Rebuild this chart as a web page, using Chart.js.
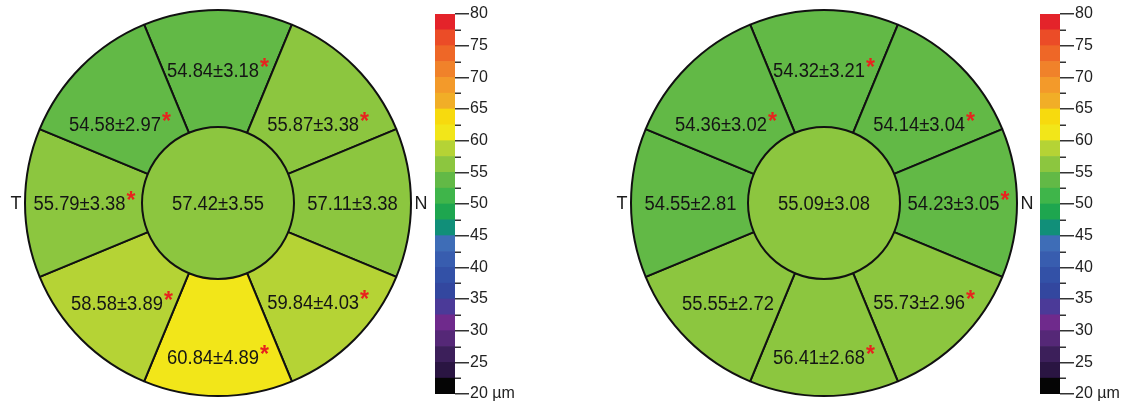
<!DOCTYPE html>
<html>
<head>
<meta charset="utf-8">
<script src="https://cdn.jsdelivr.net/npm/chart.js@4.4.1/dist/chart.umd.min.js"></script>
<style>
  html, body { margin: 0; padding: 0; background: #ffffff; }
  #wrap { position: relative; width: 1122px; height: 411px; overflow: hidden; }
  #wrap canvas { position: absolute; top: 0; }
</style>
</head>
<body>
<div id="wrap">
  <canvas id="mapL" width="435" height="411" style="left:0px"></canvas>
  <canvas id="barL" width="90" height="411" style="left:435px"></canvas>
  <canvas id="mapR" width="440" height="411" style="left:600px"></canvas>
  <canvas id="barR" width="82" height="411" style="left:1040px"></canvas>
</div>
<script>
// Outer ring sectors, starting at the top and running clockwise
const sectorNames = ['S', 'SN', 'N', 'IN', 'I', 'IT', 'T', 'ST'];

// Left map
const leftMeans = [54.84, 55.87, 57.11, 59.84, 60.84, 58.58, 55.79, 54.58];
const leftSD    = [3.18, 3.38, 3.38, 4.03, 4.89, 3.89, 3.38, 2.97];
const leftSig   = [true, true, false, true, true, true, true, true];
const leftCentreMean = 57.42;
const leftCentreSD   = 3.55;
const leftCentreSig  = false;

// Right map
const rightMeans = [54.32, 54.14, 54.23, 55.73, 56.41, 55.55, 54.55, 54.36];
const rightSD    = [3.21, 3.04, 3.05, 2.96, 2.68, 2.72, 2.81, 3.02];
const rightSig   = [true, true, true, true, true, false, false, true];
const rightCentreMean = 55.09;
const rightCentreSD   = 3.08;
const rightCentreSig  = false;

// Thickness colour scale (µm): step edges, step colours (bottom to top), ticks
const scaleEdges = [20, 22.5, 25, 27.5, 30, 32.5, 35, 37.5, 40, 42.5, 45, 47.5,
                    50, 52.5, 55, 57.5, 60, 62.5, 65, 67.5, 70, 72.5, 75, 77.5, 80];
const scaleColours = ['#050505', '#2a1542', '#3c1f5a', '#552877', '#6f2a8c', '#4b3a98',
                      '#33479f', '#3351a7', '#385daf', '#3e6db7', '#118f79', '#1ea64f',
                      '#3fb54a', '#62b946', '#8cc63f', '#b5d335', '#f2e619', '#f7da0e',
                      '#f1ae27', '#f39a2a', '#f0822a', '#ee6727', '#eb4c27', '#e4232a'];
const majorTicks = [20, 25, 30, 35, 40, 45, 50, 55, 60, 65, 70, 75, 80];
const minorTicks = [22.5, 27.5, 32.5, 37.5, 42.5, 47.5, 52.5, 57.5, 62.5, 67.5, 72.5, 77.5];
const unitLabel = 'µm';

// Small per-sector shifts of the value labels away from the sector centroid (px)
const labelNudge = [[0, 1], [5, 16], [0, 0], [5, 4], [0, 19], [-1, 5], [1, 0], [-3, 16]];

const FONT = "'Liberation Sans', Arial, Helvetica, sans-serif";
Chart.defaults.font.family = FONT;

function colourFor(v) {
  for (let i = 0; i < scaleColours.length; i++) {
    if (v >= scaleEdges[i] && v < scaleEdges[i + 1]) return scaleColours[i];
  }
  return v < scaleEdges[0] ? scaleColours[0] : scaleColours[scaleColours.length - 1];
}

function fmt(m, s) { return m.toFixed(2) + '\u00b1' + s.toFixed(2); }

// Draws "mean±sd" with a slightly condensed face, plus a red raised asterisk when flagged
function drawValue(ctx, text, sig, cx, cy) {
  const squeeze = 0.92;
  ctx.save();
  ctx.font = '20px ' + FONT;
  const tw = ctx.measureText(text).width * squeeze;
  ctx.font = 'bold 23px ' + FONT;
  const sw = sig ? ctx.measureText('*').width + 1 : 0;
  const x0 = cx - (tw + sw) / 2;
  const base = cy + 7.2;
  ctx.font = '20px ' + FONT;
  ctx.fillStyle = '#151515';
  ctx.textAlign = 'left';
  ctx.textBaseline = 'alphabetic';
  ctx.save();
  ctx.translate(x0, base);
  ctx.scale(squeeze, 1);
  ctx.fillText(text, 0, 0);
  ctx.restore();
  if (sig) {
    ctx.font = 'bold 23px ' + FONT;
    ctx.fillStyle = '#e8221e';
    ctx.fillText('*', x0 + tw + 1, base - 2);
  }
  ctx.restore();
}

const mapLabels = {
  id: 'mapLabels',
  afterDatasetsDraw(chart) {
    const cfg = chart.options.plugins.mapLabels;
    const ctx = chart.ctx;
    const ring = chart.getDatasetMeta(0).data;
    ring.forEach((arc, i) => {
      const p = arc.getCenterPoint();
      drawValue(ctx, fmt(cfg.means[i], cfg.sds[i]), cfg.sig[i],
                p.x + labelNudge[i][0], p.y + labelNudge[i][1]);
    });
    const centre = chart.getDatasetMeta(1).data[0];
    drawValue(ctx, fmt(cfg.centreMean, cfg.centreSD), cfg.centreSig, centre.x, centre.y);

    // Side markers: temporal (left) and nasal (right)
    const r = ring[0].outerRadius;
    ctx.save();
    ctx.font = '18px ' + FONT;
    ctx.fillStyle = '#1c1c1c';
    ctx.textAlign = 'center';
    ctx.textBaseline = 'middle';
    ctx.fillText('T', centre.x - r - 9, centre.y + 1);
    ctx.fillText('N', centre.x + r + 10, centre.y + 1);
    ctx.restore();
  }
};

function makeMap(id, means, sds, sig, cMean, cSD, cSig, padLeft, padRight) {
  new Chart(document.getElementById(id), {
    type: 'doughnut',
    data: {
      labels: sectorNames,
      datasets: [
        {
          data: means.map(() => 1),
          backgroundColor: means.map(colourFor),
          borderColor: '#111',
          borderWidth: 2,
          weight: 117
        },
        {
          // the ring's inner edges already outline this disc
          data: [1],
          backgroundColor: [colourFor(cMean)],
          borderWidth: 0,
          weight: 76
        }
      ]
    },
    options: {
      responsive: false,
      animation: false,
      events: [],
      cutout: 0,
      rotation: -22.5,
      hoverOffset: 0,
      layout: { padding: { left: padLeft, right: padRight, top: 9, bottom: 14 } },
      plugins: {
        legend: { display: false },
        tooltip: { enabled: false },
        mapLabels: { means, sds, sig, centreMean: cMean, centreSD: cSD, centreSig: cSig }
      }
    },
    plugins: [mapLabels]
  });
}

const minorTickMarks = {
  id: 'minorTickMarks',
  afterDraw(chart) {
    const y = chart.scales.y;
    const ctx = chart.ctx;
    ctx.save();
    ctx.strokeStyle = '#333';
    ctx.lineWidth = 1.5;
    minorTicks.forEach(v => {
      const py = Math.round(y.getPixelForValue(v)) + 0.25;
      ctx.beginPath();
      ctx.moveTo(y.left, py);
      ctx.lineTo(y.left + 6, py);
      ctx.stroke();
    });
    ctx.restore();
  }
};

function makeScale(id, canvasWidth) {
  new Chart(document.getElementById(id), {
    type: 'bar',
    data: {
      labels: [''],
      datasets: scaleColours.map((c, i) => ({
        data: [[scaleEdges[i], scaleEdges[i + 1]]],
        backgroundColor: c,
        borderWidth: 0,
        grouped: false,
        barPercentage: 1,
        categoryPercentage: 1
      }))
    },
    options: {
      responsive: false,
      animation: false,
      events: [],
      layout: { padding: { left: 0, right: 0, top: 14, bottom: 17 } },
      plugins: { legend: { display: false }, tooltip: { enabled: false } },
      scales: {
        x: { display: false },
        y: {
          position: 'right',
          min: scaleEdges[0],
          max: scaleEdges[scaleEdges.length - 1],
          afterFit(scale) { scale.width = canvasWidth - 20; },
          afterBuildTicks(scale) { scale.ticks = majorTicks.map(v => ({ value: v })); },
          border: { display: false },
          grid: { drawOnChartArea: false, drawTicks: true, tickLength: 14, color: '#333', lineWidth: 1.5 },
          ticks: {
            padding: 1,
            color: '#222',
            font: { size: 16, family: FONT },
            callback: v => (v === scaleEdges[0] ? v + ' ' + unitLabel : String(v))
          }
        }
      }
    },
    plugins: [minorTickMarks]
  });
}

makeMap('mapL', leftMeans, leftSD, leftSig, leftCentreMean, leftCentreSD, leftCentreSig, 24, 23);
makeMap('mapR', rightMeans, rightSD, rightSig, rightCentreMean, rightCentreSD, rightCentreSig, 30, 22);
makeScale('barL', 90);
makeScale('barR', 82);
</script>
</body>
</html>
